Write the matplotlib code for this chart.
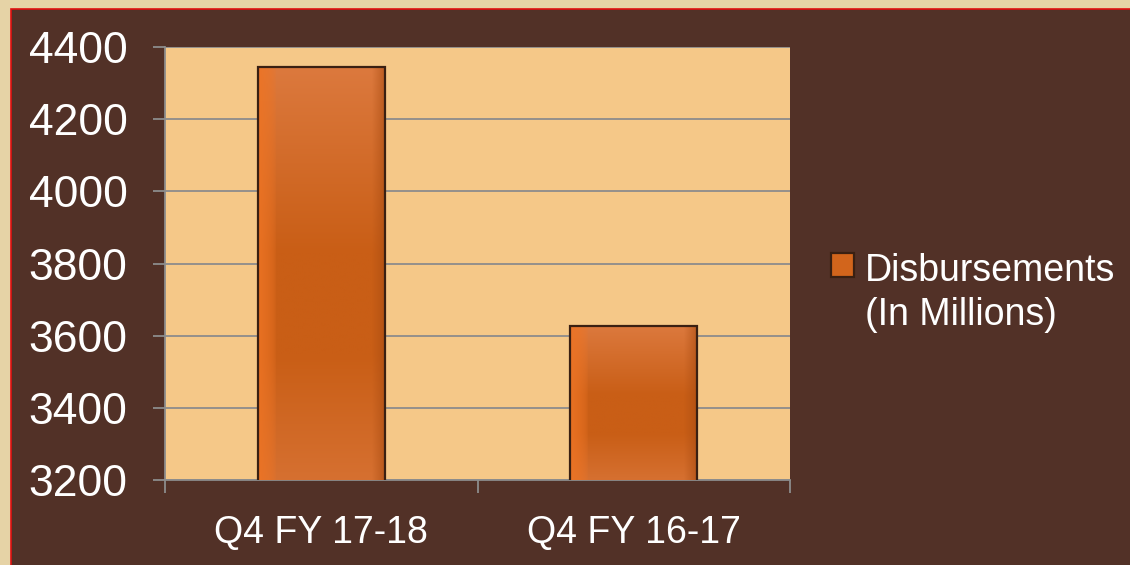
import matplotlib
matplotlib.use("Agg")
import matplotlib.pyplot as plt
from matplotlib.patches import Rectangle
from matplotlib.colors import to_rgb
import numpy as np

# data
categories = ['Q4 FY 17-18', 'Q4 FY 16-17']
disbursements = [4345, 3627]
series_label = 'Disbursements\n(In Millions)'
yticks = [3200, 3400, 3600, 3800, 4000, 4200, 4400]

parchment = '#E6D3A6'
brown = '#523127'
plotbg = '#F5C888'
barcol = '#D2651C'
edgecol = '#3A2012'
gridcol = '#8C8C8C'

plt.rcParams['font.family'] = ['Liberation Sans', 'DejaVu Sans']

fig = plt.figure(figsize=(11.3, 5.65), dpi=100)
fig.patch.set_facecolor(parchment)
# brown slide panel with thin red rim
fig.patches.append(Rectangle((11/1130, -0.01), 1.02, (565-9)/565 + 0.01,
                             transform=fig.transFigure, facecolor=brown,
                             edgecolor='#E01010', linewidth=1.2, zorder=-5))

ax = fig.add_axes([165/1130, 85/565, 625/1130, 433/565])
ax.set_facecolor(plotbg)

x = np.arange(len(categories))
bars = ax.bar(x, disbursements, width=0.405, color='none', edgecolor=edgecol,
              linewidth=1.6, zorder=4)

# bevel-like shading inside the bars
mid = np.array(to_rgb('#C95E16'))
light = np.array(to_rgb('#DE7C42'))
bright = np.array(to_rgb('#EE7424'))
dark = np.array(to_rgb('#A94C12'))
t = np.linspace(1, 0, 200)[:, None]      # top -> bottom
u = np.linspace(0, 1, 120)[None, :]      # left -> right
vert = np.clip((t - 0.55) / 0.45, 0, 1) * 0.9 + np.clip((0.3 - t) / 0.3, 0, 1) * 0.6
left = np.clip((0.14 - u) / 0.14, 0, 1) ** 0.5
right = np.clip((u - 0.9) / 0.1, 0, 1)
img_rgb = mid + (light - mid) * vert[..., None]
img_rgb = img_rgb + (bright - img_rgb) * (0.85 * left)[..., None]
img_rgb = img_rgb + (dark - img_rgb) * (0.6 * right)[..., None]
img_rgb = np.clip(img_rgb, 0, 1)
for b in bars:
    img = ax.imshow(img_rgb, aspect='auto', origin='upper',
                    extent=[b.get_x(), b.get_x() + b.get_width(), 3200, b.get_height()],
                    zorder=3.5, interpolation='bilinear')
    img.set_clip_path(b)

ax.set_xlim(-0.5, 1.5)
ax.set_ylim(3200, 4400)
ax.set_yticks(yticks)
ax.set_xticks(x)
ax.set_xticklabels(categories)
ax.set_xticks([-0.5, 0.5, 1.5], minor=True)

ax.grid(axis='y', color=gridcol, linewidth=1.3, zorder=1)
ax.set_axisbelow(True)
ax.tick_params(axis='y', colors=gridcol, labelcolor='white', labelsize=32,
               length=9, width=1.3, pad=18)
ax.tick_params(axis='x', which='major', length=0, labelcolor='white',
               labelsize=27, pad=25)
ax.tick_params(axis='x', which='minor', length=9.5, width=1.3, color=gridcol)

for s in ['top', 'right']:
    ax.spines[s].set_visible(False)
for s in ['left', 'bottom']:
    ax.spines[s].set_color(gridcol)
    ax.spines[s].set_linewidth(1.3)

proxy = Rectangle((0, 0), 1, 1, facecolor=barcol, edgecolor=edgecol, linewidth=1.6)
leg = fig.legend(handles=[proxy], labels=[series_label], loc='center left',
                 bbox_to_anchor=(831/1130, 0.481), frameon=False,
                 fontsize=27, handlelength=0.6, handleheight=0.6,
                 handletextpad=0.3, borderpad=0, borderaxespad=0)
for t_ in leg.get_texts():
    t_.set_color('white')
    t_.set_linespacing(1.3)
# put the marker next to the first line of the label
for col in leg._legend_handle_box.get_children():
    for item in col.get_children():
        item.align = 'top'

fig.savefig('out.png', dpi=100, facecolor=fig.get_facecolor())
